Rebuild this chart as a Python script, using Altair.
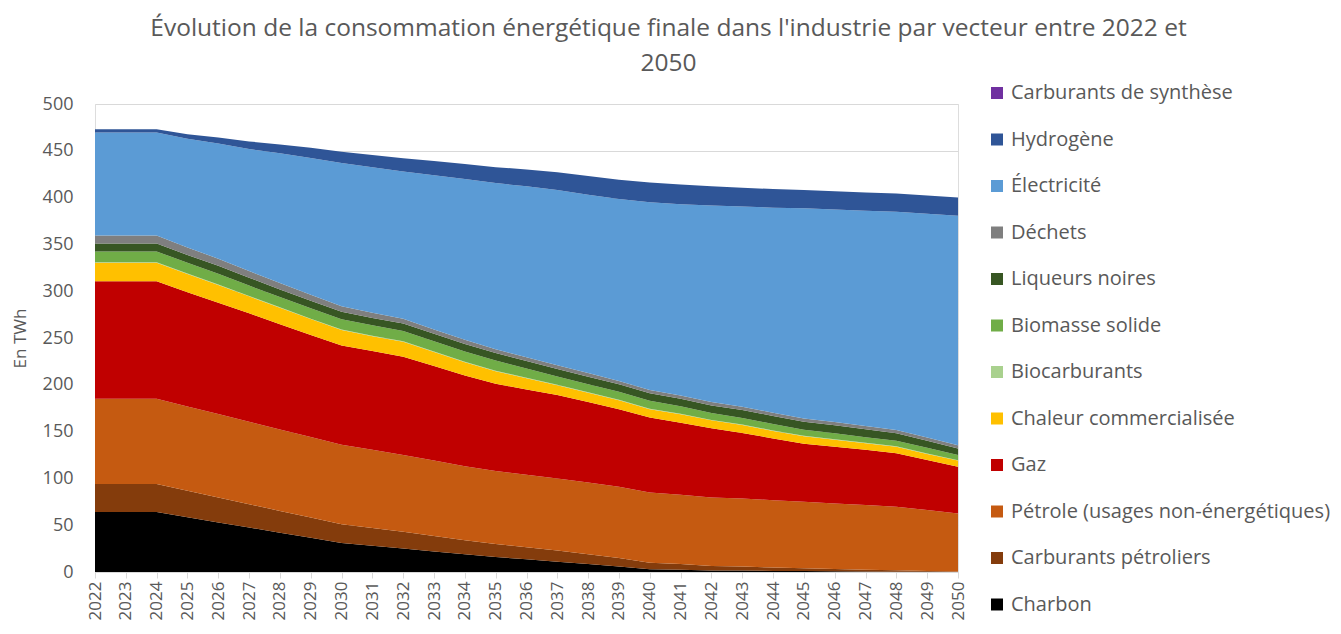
import altair as alt
import pandas as pd

years = [str(y) for y in range(2022, 2051)]

charbon = [64, 64, 64, 58.5, 53, 47.5, 42, 36.5, 31, 28, 25, 22, 19, 16, 13.5, 11, 8.5, 6, 3, 2.5, 1.5, 1.5, 1.2, 1, 0.8, 0.5, 0.3, 0.2, 0]
carburants_petroliers = [30, 30, 30, 28.3, 26.7, 25, 23.3, 21.7, 20, 19, 18, 16.5, 15, 14, 13, 12, 10.5, 9, 7, 6, 5, 4.5, 3.5, 3, 2.5, 2, 1.5, 1, 0.5]
petrole = [91, 91, 91, 90, 89, 88, 87, 86, 85, 83.5, 82, 80.5, 79, 78, 77.5, 77, 76.5, 76, 75, 74, 73, 72.5, 72, 71, 70, 69, 68, 65, 62]
gaz = [125.5, 125.5, 125.5, 122, 119, 116, 112.5, 109, 106, 105.5, 105, 101, 97, 93, 91, 89, 86, 83, 80, 77, 74, 70, 66, 62, 60.5, 59, 57, 53.5, 50]
chaleur = [20, 20, 20, 19.5, 19, 18, 17.5, 17, 16.5, 16, 16, 15, 14, 13.5, 12, 10.5, 10, 9.5, 9, 9, 8.5, 8.5, 8, 8, 7.5, 7, 7, 6.5, 6.5]
biocarburants = [0.5, 0.5, 0.5, 0.5, 0.5, 0.5, 0.5, 0.5, 0.5, 0.5, 0.5, 0.5, 0.5, 0.5, 0.5, 0.5, 0.5, 0.5, 0.5, 0.5, 0.5, 0.5, 0.5, 0.5, 0.5, 0.5, 0.5, 0.5, 0.5]
biomasse = [11.5, 11.5, 11.5, 11.5, 11.5, 11, 11, 11, 11, 11, 11, 11, 11, 11, 10, 9, 8.5, 8.5, 8.5, 8, 7.5, 7, 7, 6.5, 6.5, 6, 6, 6, 5.5]
liqueurs = [8.5, 8.5, 8.5, 8.5, 8.5, 8.5, 8, 8, 8, 8, 8, 8, 8, 8, 8, 8, 8, 8, 8, 8, 8, 8.5, 8.5, 8.5, 8.5, 8.5, 8, 7.5, 7]
dechets = [8.5, 8.5, 8.5, 8, 7.5, 7, 7, 6.5, 6, 5.5, 5, 4.5, 4.5, 4, 4, 4, 4, 3.5, 3.5, 3.5, 3.5, 3.5, 3.5, 3.5, 3.5, 3.5, 3.5, 3.5, 3.5]
electricite = [110, 110, 110, 116, 123, 130.5, 138.5, 146, 153, 155.5, 157.5, 165, 172, 177.5, 182.5, 187, 190.5, 194.5, 200.5, 204.5, 210, 214, 219, 224.5, 227, 230, 233, 239, 245]
hydrogene = [3.5, 3.5, 3.5, 5, 6.5, 8, 9.5, 11, 12, 13, 14, 15, 16, 17, 18, 19, 20, 20.5, 21, 21, 20.5, 20, 20, 19.5, 19.5, 19.5, 19.5, 19.5, 19.5]
synthese = [0, 0, 0, 0, 0, 0, 0, 0, 0, 0, 0, 0, 0, 0, 0, 0, 0, 0, 0, 0, 0, 0, 0, 0, 0, 0, 0, 0, 0]

# bottom to top
series_names = [
    "Charbon", "Carburants pétroliers", "Pétrole (usages non-énergétiques)", "Gaz",
    "Chaleur commercialisée", "Biocarburants", "Biomasse solide", "Liqueurs noires",
    "Déchets", "Électricité", "Hydrogène", "Carburants de synthèse",
]
series_values = [charbon, carburants_petroliers, petrole, gaz, chaleur, biocarburants,
                 biomasse, liqueurs, dechets, electricite, hydrogene, synthese]
series_colors = ["#000000", "#843C0C", "#C55A11", "#C00000", "#FFC000", "#A9D18E",
                 "#70AD47", "#375623", "#7F7F7F", "#5B9BD5", "#2F5597", "#7030A0"]

rows = []
for i, (name, vals) in enumerate(zip(series_names, series_values)):
    for yr, v in zip(years, vals):
        rows.append({"Année": yr, "Vecteur": name, "TWh": v, "ordre": i})
df = pd.DataFrame(rows)

FONT = "Open Sans"
GREY = "#595959"

chart = alt.Chart(df).mark_area(strokeWidth=0, opacity=1).encode(
    x=alt.X("Année:O", sort=years,
            scale=alt.Scale(type="point", padding=0),
            axis=alt.Axis(title=None, labelAngle=270, labelFontSize=17, labelColor=GREY,
                          labelFont=FONT, domainColor="#D9D9D9", tickColor="#D9D9D9",
                          tickSize=6, labelPadding=3, grid=False)),
    y=alt.Y("TWh:Q", stack="zero",
            scale=alt.Scale(domain=[0, 500], nice=False),
            axis=alt.Axis(title="En TWh", values=list(range(0, 501, 50)), labelFontSize=18,
                          labelColor=GREY, labelFont=FONT, titleFont=FONT, titleFontSize=17,
                          titleFontWeight="normal", titleColor=GREY, titlePadding=13,
                          ticks=False, domain=False, labelPadding=22,
                          gridColor="#D9D9D9", gridWidth=1)),
    color=alt.Color("Vecteur:N",
                    scale=alt.Scale(domain=series_names[::-1], range=series_colors[::-1]),
                    legend=alt.Legend(title=None, orient="none", legendX=892, legendY=-21,
                                      symbolType="square", symbolSize=144, symbolStrokeWidth=0,
                                      labelFontSize=20, labelFont=FONT, labelColor=GREY,
                                      labelOffset=4, rowPadding=26.5, labelLimit=420)),
    order=alt.Order("ordre:Q", sort="ascending"),
).properties(
    width=863,
    height=468,
    autosize=alt.AutoSizeParams(type="none"),
    padding={"left": 87, "top": 96, "right": 375, "bottom": 53},
    title=alt.TitleParams(
        text=["Évolution de la consommation énergétique finale dans l'industrie par vecteur entre 2022 et", "2050"],
        font=FONT, fontSize=24.5, fontWeight="normal", color=GREY, anchor="middle",
        frame="group", dx=142, offset=-17, baseline="bottom", lineHeight=35),
).configure_view(stroke=None).configure(background="white")

chart.save("out.html", embed_options={"renderer": "svg", "actions": False})
